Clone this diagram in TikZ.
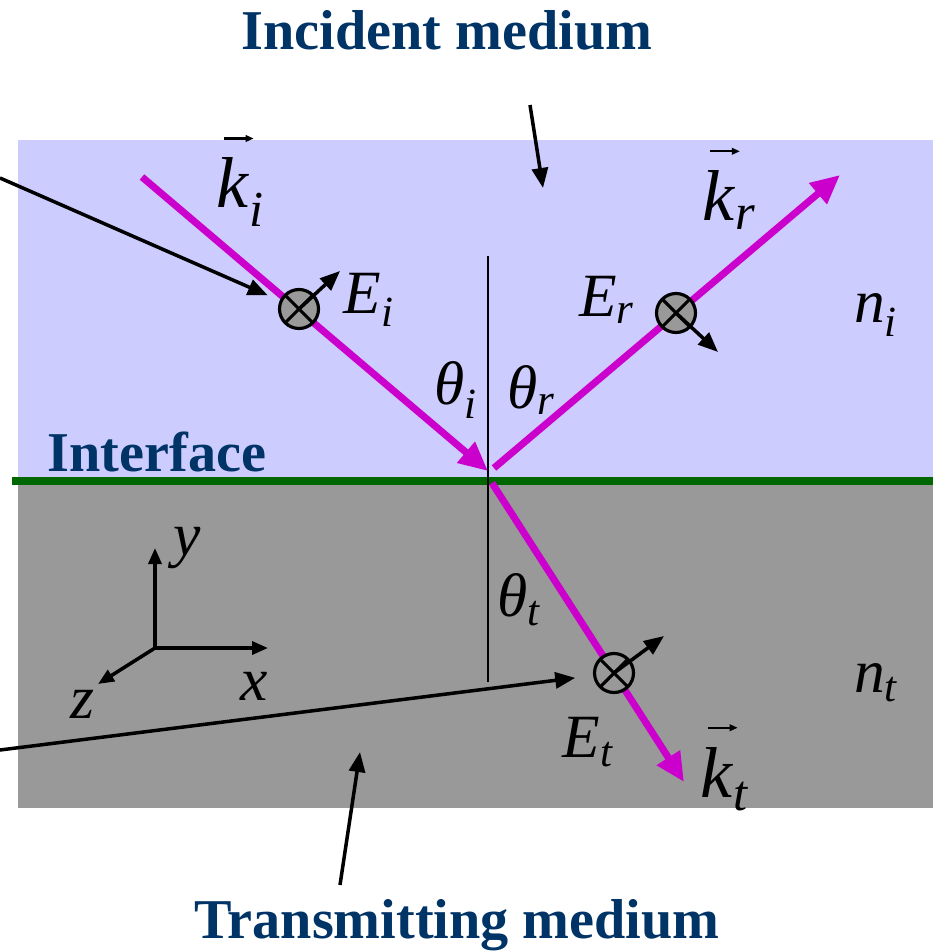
\documentclass[tikz,border=0pt]{standalone}
\usepackage{amsmath}
\usepackage{fontspec}
\setmainfont{Liberation Serif}
\usetikzlibrary{arrows.meta,positioning,calc}
\definecolor{medblue}{RGB}{204,204,255}
\definecolor{medgray}{RGB}{153,153,153}
\definecolor{raymag}{RGB}{204,0,204}
\definecolor{ifgreen}{RGB}{0,102,0}
\definecolor{titlenavy}{RGB}{0,51,102}

\newcommand{\wvec}[1]{\textit{k}$_{\text{\itshape #1}}$}
\newcommand{\efield}[1]{\textit{E}$_{\text{\itshape #1}}$}
\newcommand{\angl}[1]{\textit{θ}$_{\text{\itshape #1}}$}
\newcommand{\rindex}[1]{\textit{n}$_{\text{\itshape #1}}$}

\begin{document}
\begin{tikzpicture}[x=0.02cm, y=-0.02cm,
  every node/.style={font=\fontsize{35}{40}\selectfont, inner sep=0pt},
  title/.style={font=\fontsize{32}{36}\selectfont\bfseries, text=titlenavy},
  wlab/.style={font=\fontsize{41}{46}\selectfont},
  vecbar/.style={black, line width=1.3pt, -{Triangle[length=0.16cm, width=0.13cm]}},
  ray/.style={raymag, line width=4pt, -{Triangle[length=0.58cm, width=0.52cm]}},
  ptr/.style={black, line width=2pt, -{Triangle[length=0.4cm, width=0.32cm]}},
  axis/.style={black, line width=2pt, -{Triangle[length=0.32cm, width=0.26cm]}},
  pol/.style={circle, draw, line width=1.8pt, fill=medgray, minimum size=0.78cm,
              path picture={\draw[line width=1.8pt]
                (path picture bounding box.north west) -- (path picture bounding box.south east)
                (path picture bounding box.north east) -- (path picture bounding box.south west);}},
]
\useasboundingbox (0,0) rectangle (933,952);

%% Media
\fill[medblue] (18,140) rectangle (933,479);
\fill[medgray] (18,479) rectangle (933,808);
\draw[ifgreen, line width=4.5pt] (12,481) -- (933,481);

%% Normal
\coordinate (nTop) at (488,256);
\coordinate (nBot) at (488,682);
\draw[black, line width=0.9pt] (nTop) -- (nBot);

%% Rays
\coordinate (kiS) at (142,177);
\coordinate (kiE) at (488,471);
\coordinate (krS) at (494,468);
\coordinate (krE) at (840,175);
\coordinate (ktS) at (492,483);
\coordinate (ktE) at (684,782);
\draw[ray] (kiS) -- (kiE);
\draw[ray] (krS) -- (krE);
\draw[ray] (ktS) -- (ktE);

%% Field markers
\node[pol] (ei) at (299,309) {};
\node[pol] (er) at (676,313) {};
\node[pol] (et) at (614,673) {};
\draw[ptr] (ei.center) -- ++(41,-38);
\draw[ptr] (er.center) -- ++(42,39);
\draw[ptr] (et.center) -- ++(50,-37);

%% Pointers from the titles
\coordinate (pl1) at (0,178);
\coordinate (pl2) at (0,750);
\draw[ptr, shorten >=0.26cm] (pl1) -- (ei);
\draw[ptr, shorten >=0.36cm] (pl2) -- (et);

\node[title] (inc) at (447,30) {Incident medium};
\node[title] (trn) at (457,925) {Transmitting medium};
\node[title] (ifc) at (157,452) {Interface};
\coordinate (pm1) at (530,105);
\coordinate (pm2) at (543,188);
\coordinate (pm3) at (340,885);
\coordinate (pm4) at (360,752);
\draw[ptr] (pm1) -- (pm2);
\draw[ptr] (pm3) -- (pm4);

%% Axes
\coordinate (ax0) at (155,648);
\coordinate (axy) at (155,548);
\coordinate (axx) at (268,648);
\coordinate (axz) at (98,684);
\draw[axis] (ax0) -- (axy);
\draw[axis] (ax0) -- (axx);
\draw[axis] (ax0) -- (axz);
\node (ly) at (187,548) {\textit{y}};
\node (lx) at (254,686) {\textit{x}};
\node (lz) at (82,704) {\textit{z}};

%% Labels
\node[wlab] (lki) at (240,192) {\wvec{i}};
\node[wlab] (lkr) at (729,200) {\wvec{r}};
\node[wlab] (lkt) at (724,779) {\wvec{t}};
\foreach \k in {lki, lkr, lkt} {
  \draw[vecbar] ($(\k.north west)+(8,-19)$) -- ++(30,0);
}
\node (lei) at (369,300) {\efield{i}};
\node (ler) at (607,300) {\efield{r}};
\node (let) at (588,742) {\efield{t}};
\node (lti) at (456,390) {\angl{i}};
\node (ltr) at (531,390) {\angl{r}};
\node (ltt) at (519,600) {\angl{t}};
\node (lni) at (876,315) {\rindex{i}};
\node (lnt) at (876,683) {\rindex{t}};

\end{tikzpicture}
\end{document}
